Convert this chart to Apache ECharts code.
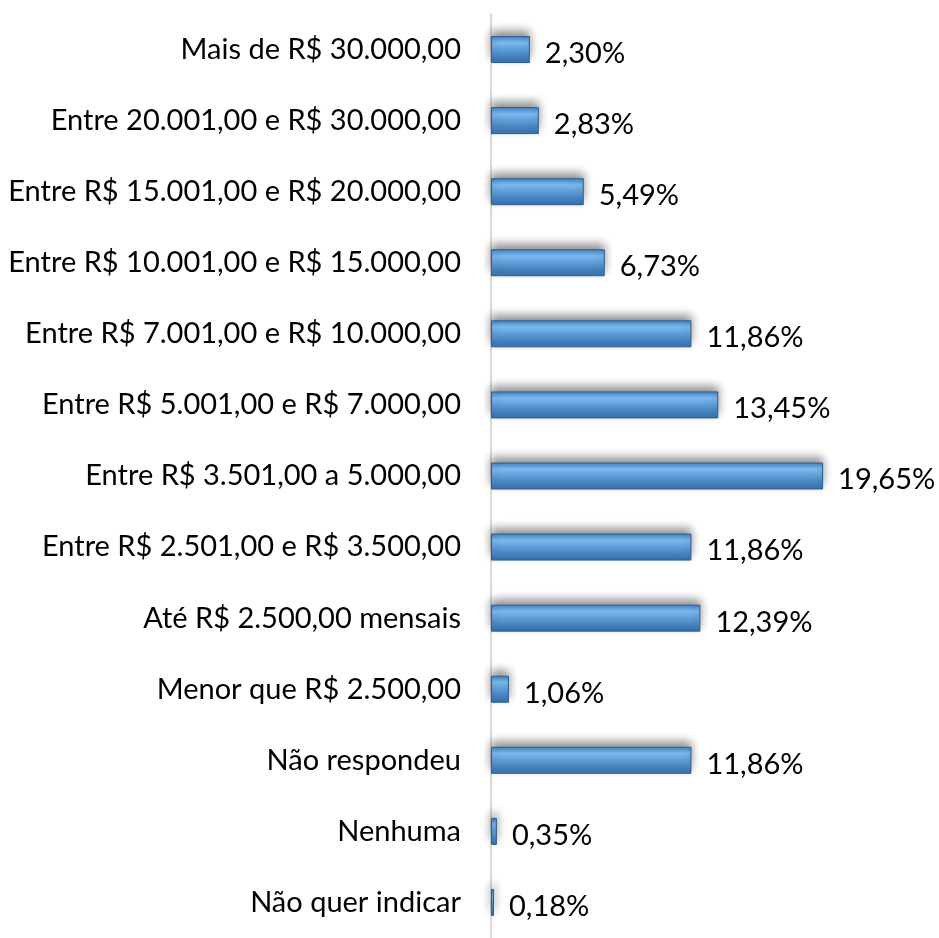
<!DOCTYPE html>
<html>
<head>
<meta charset="utf-8">
<script src="https://cdn.jsdelivr.net/npm/echarts@6/dist/echarts.min.js"></script>
<style>html,body{margin:0;padding:0;background:#fff}#c{width:939px;height:938px}</style>
</head>
<body>
<div id="c"></div>
<script>
const categories = [
  'Mais de R$ 30.000,00',
  'Entre 20.001,00 e R$ 30.000,00',
  'Entre R$ 15.001,00 e R$ 20.000,00',
  'Entre R$ 10.001,00 e R$ 15.000,00',
  'Entre R$ 7.001,00 e R$ 10.000,00',
  'Entre R$ 5.001,00 e R$ 7.000,00',
  'Entre R$ 3.501,00 a 5.000,00',
  'Entre R$ 2.501,00 e R$ 3.500,00',
  'Até R$ 2.500,00 mensais',
  'Menor que R$ 2.500,00',
  'Não respondeu',
  'Nenhuma',
  'Não quer indicar'
];
const values = [2.30, 2.83, 5.49, 6.73, 11.86, 13.45, 19.65, 11.86, 12.39, 1.06, 11.86, 0.35, 0.18];

const chart = echarts.init(document.getElementById('c'));
chart.setOption({
  animation: false,
  grid: { left: 491, top: 14, width: 422.5, height: 930, containLabel: false },
  xAxis: { type: 'value', min: 0, max: 25, show: false },
  yAxis: {
    type: 'category', data: categories, inverse: true,
    axisLine: { show: true, lineStyle: { color: '#d9d9d9', width: 2 } },
    axisTick: { show: false },
    axisLabel: { color: '#000', fontFamily: 'Lato', fontSize: 29, margin: 30, padding: [7, 0, 0, 0] }
  },
  series: [{
    type: 'bar', data: values, barWidth: 27,
    itemStyle: {
      color: new echarts.graphic.LinearGradient(0, 0, 0, 1, [
        { offset: 0, color: '#4282c6' },
        { offset: 0.25, color: '#7cb9ec' },
        { offset: 0.5, color: '#5f9fda' },
        { offset: 1, color: '#3570b0' }
      ]),
      borderColor: '#2d5d90', borderWidth: 1,
      shadowColor: 'rgba(0,0,0,0.45)', shadowBlur: 10, shadowOffsetY: -5
    },
    label: {
      show: true, position: 'right', distance: 15, offset: [0, 4],
      color: '#000', fontFamily: 'Lato', fontSize: 29,
      formatter: p => p.value.toFixed(2).replace('.', ',') + '%'
    }
  }]
});
</script>
</body>
</html>
